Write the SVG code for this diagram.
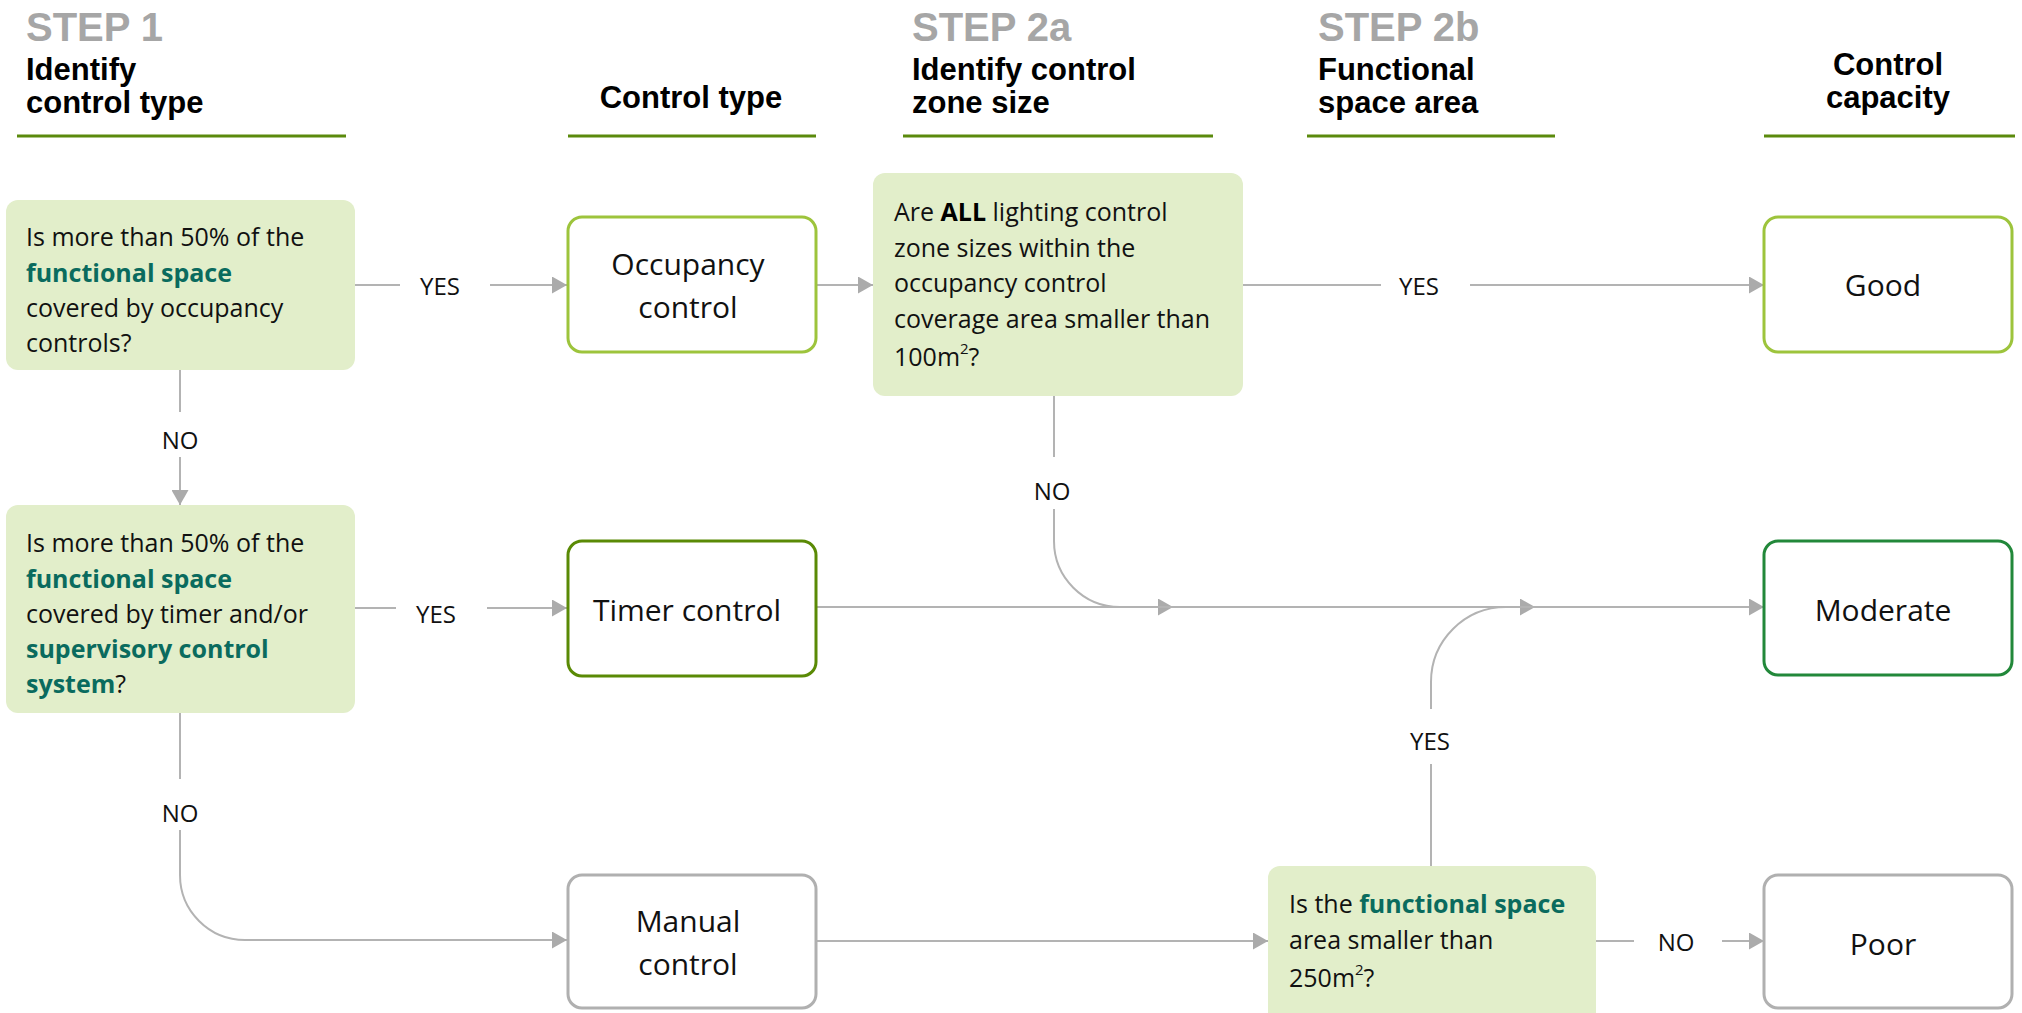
<svg xmlns="http://www.w3.org/2000/svg" width="2022" height="1013" viewBox="0 0 2022 1013">
<defs>
<marker id="arr" markerUnits="userSpaceOnUse" markerWidth="15" markerHeight="17" refX="15" refY="8.5" orient="auto">
<path d="M0,0 L15,8.5 L0,17 Z" fill="#ABABAB"/>
</marker>
<style>
.step{font-family:"Liberation Sans",Arial,sans-serif;font-weight:bold;font-size:40px;fill:#A6A6A6}
.hdr{font-family:"Liberation Sans",Arial,sans-serif;font-weight:bold;font-size:31px;fill:#000}
.ul{stroke:#5B8A0C;stroke-width:3}
.q{fill:#E2EECA}
.qt{font-family:"Open Sans","Noto Sans",sans-serif;font-size:25px;fill:#111}
.em{font-weight:bold;fill:#0A6B5E}
.b{font-weight:bold;fill:#000}
.nd{fill:#fff;stroke-width:3}
.nt{font-family:"Open Sans","Noto Sans",sans-serif;font-size:30px;fill:#111;text-anchor:middle}
.lbl{font-family:"Open Sans","Noto Sans",sans-serif;font-size:24px;fill:#111;text-anchor:middle}
.conn{stroke:#B3B3B3;stroke-width:2;fill:none}
.sup{font-size:15px}
</style>
</defs>
<rect width="2022" height="1013" fill="#fff"/>

<g id="headers">
<text class="step" x="26" y="41">STEP 1</text>
<text class="hdr" x="26" y="80">Identify</text>
<text class="hdr" x="26" y="113">control type</text>
<line class="ul" x1="17" y1="136" x2="346" y2="136"/>

<text class="hdr" x="691" y="108" text-anchor="middle">Control type</text>
<line class="ul" x1="568" y1="136" x2="816" y2="136"/>

<text class="step" x="912" y="41">STEP 2a</text>
<text class="hdr" x="912" y="80">Identify control</text>
<text class="hdr" x="912" y="113">zone size</text>
<line class="ul" x1="903" y1="136" x2="1213" y2="136"/>

<text class="step" x="1318" y="41">STEP 2b</text>
<text class="hdr" x="1318" y="80">Functional</text>
<text class="hdr" x="1318" y="113">space area</text>
<line class="ul" x1="1307" y1="136" x2="1555" y2="136"/>

<text class="hdr" x="1888" y="75" text-anchor="middle">Control</text>
<text class="hdr" x="1888" y="108" text-anchor="middle">capacity</text>
<line class="ul" x1="1764" y1="136" x2="2015" y2="136"/>
</g>

<g id="connectors">
<path class="conn" d="M355,285 H400"/>
<path class="conn" d="M490,285 H567" marker-end="url(#arr)"/>
<path class="conn" d="M816,285 H873" marker-end="url(#arr)"/>
<path class="conn" d="M1243,285 H1381"/>
<path class="conn" d="M1470,285 H1764" marker-end="url(#arr)"/>
<path class="conn" d="M180,370 V412"/>
<path class="conn" d="M180,457 V505" marker-end="url(#arr)"/>
<path class="conn" d="M355,608 H396"/>
<path class="conn" d="M487,608 H567" marker-end="url(#arr)"/>
<path class="conn" d="M816,607 H1173" marker-end="url(#arr)"/>
<path class="conn" d="M1173,607 H1535" marker-end="url(#arr)"/>
<path class="conn" d="M1535,607 H1764" marker-end="url(#arr)"/>
<path class="conn" d="M1054,396 V457"/>
<path class="conn" d="M1054,509 V541 A66,66 0 0 0 1120,607 H1173"/>
<path class="conn" d="M1431,866 V764"/>
<path class="conn" d="M1431,709 V682 A75,75 0 0 1 1506,607 H1535"/>
<path class="conn" d="M180,713 V779"/>
<path class="conn" d="M180,830 V875 A65,65 0 0 0 245,940 H567" marker-end="url(#arr)"/>
<path class="conn" d="M816,941 H1268" marker-end="url(#arr)"/>
<path class="conn" d="M1596,941 H1634"/>
<path class="conn" d="M1722,941 H1764" marker-end="url(#arr)"/>
<text class="lbl" x="440" y="295">YES</text>
<text class="lbl" x="436" y="623">YES</text>
<text class="lbl" x="180" y="449">NO</text>
<text class="lbl" x="180" y="822">NO</text>
<text class="lbl" x="1052" y="500">NO</text>
<text class="lbl" x="1419" y="295">YES</text>
<text class="lbl" x="1430" y="750">YES</text>
<text class="lbl" x="1676" y="951">NO</text>
</g>

<g id="q1">
<rect class="q" x="6" y="200" width="349" height="170" rx="12"/>
<text class="qt" x="26" y="246">Is more than 50% of the</text>
<text class="qt" x="26" y="282"><tspan class="em">functional space</tspan></text>
<text class="qt" x="26" y="317">covered by occupancy</text>
<text class="qt" x="26" y="352">controls?</text>
</g>

<g id="q2">
<rect class="q" x="6" y="505" width="349" height="208" rx="12"/>
<text class="qt" x="26" y="552">Is more than 50% of the</text>
<text class="qt" x="26" y="588"><tspan class="em">functional space</tspan></text>
<text class="qt" x="26" y="623">covered by timer and/or</text>
<text class="qt" x="26" y="658"><tspan class="em">supervisory control</tspan></text>
<text class="qt" x="26" y="693"><tspan class="em">system</tspan>?</text>
</g>

<g id="q2a">
<rect class="q" x="873" y="173" width="370" height="223" rx="12"/>
<text class="qt" x="894" y="221">Are <tspan class="b">ALL</tspan> lighting control</text>
<text class="qt" x="894" y="257">zone sizes within the</text>
<text class="qt" x="894" y="292">occupancy control</text>
<text class="qt" x="894" y="328">coverage area smaller than</text>
<text class="qt" x="894" y="366">100m<tspan class="sup" dy="-12">2</tspan><tspan dy="12">?</tspan></text>
</g>

<g id="q2b">
<rect class="q" x="1268" y="866" width="328" height="170" rx="12"/>
<text class="qt" x="1289" y="913">Is the <tspan class="em">functional space</tspan></text>
<text class="qt" x="1289" y="949">area smaller than</text>
<text class="qt" x="1289" y="987">250m<tspan class="sup" dy="-12">2</tspan><tspan dy="12">?</tspan></text>
</g>

<g id="occupancy">
<rect class="nd" x="568" y="217" width="248" height="135" rx="14" stroke="#9DC43C"/>
<text class="nt" x="688" y="275">Occupancy</text>
<text class="nt" x="688" y="318">control</text>
</g>

<g id="timer">
<rect class="nd" x="568" y="541" width="248" height="135" rx="14" stroke="#5A8A05"/>
<text class="nt" x="687" y="621">Timer control</text>
</g>

<g id="manual">
<rect class="nd" x="568" y="875" width="248" height="133" rx="14" stroke="#B0B0B0"/>
<text class="nt" x="688" y="932">Manual</text>
<text class="nt" x="688" y="975">control</text>
</g>

<g id="good">
<rect class="nd" x="1764" y="217" width="248" height="135" rx="14" stroke="#9DC43C"/>
<text class="nt" x="1883" y="296">Good</text>
</g>

<g id="moderate">
<rect class="nd" x="1764" y="541" width="248" height="134" rx="14" stroke="#22883A"/>
<text class="nt" x="1883" y="621">Moderate</text>
</g>

<g id="poor">
<rect class="nd" x="1764" y="875" width="248" height="133" rx="14" stroke="#B0B0B0"/>
<text class="nt" x="1883" y="955">Poor</text>
</g>
</svg>
